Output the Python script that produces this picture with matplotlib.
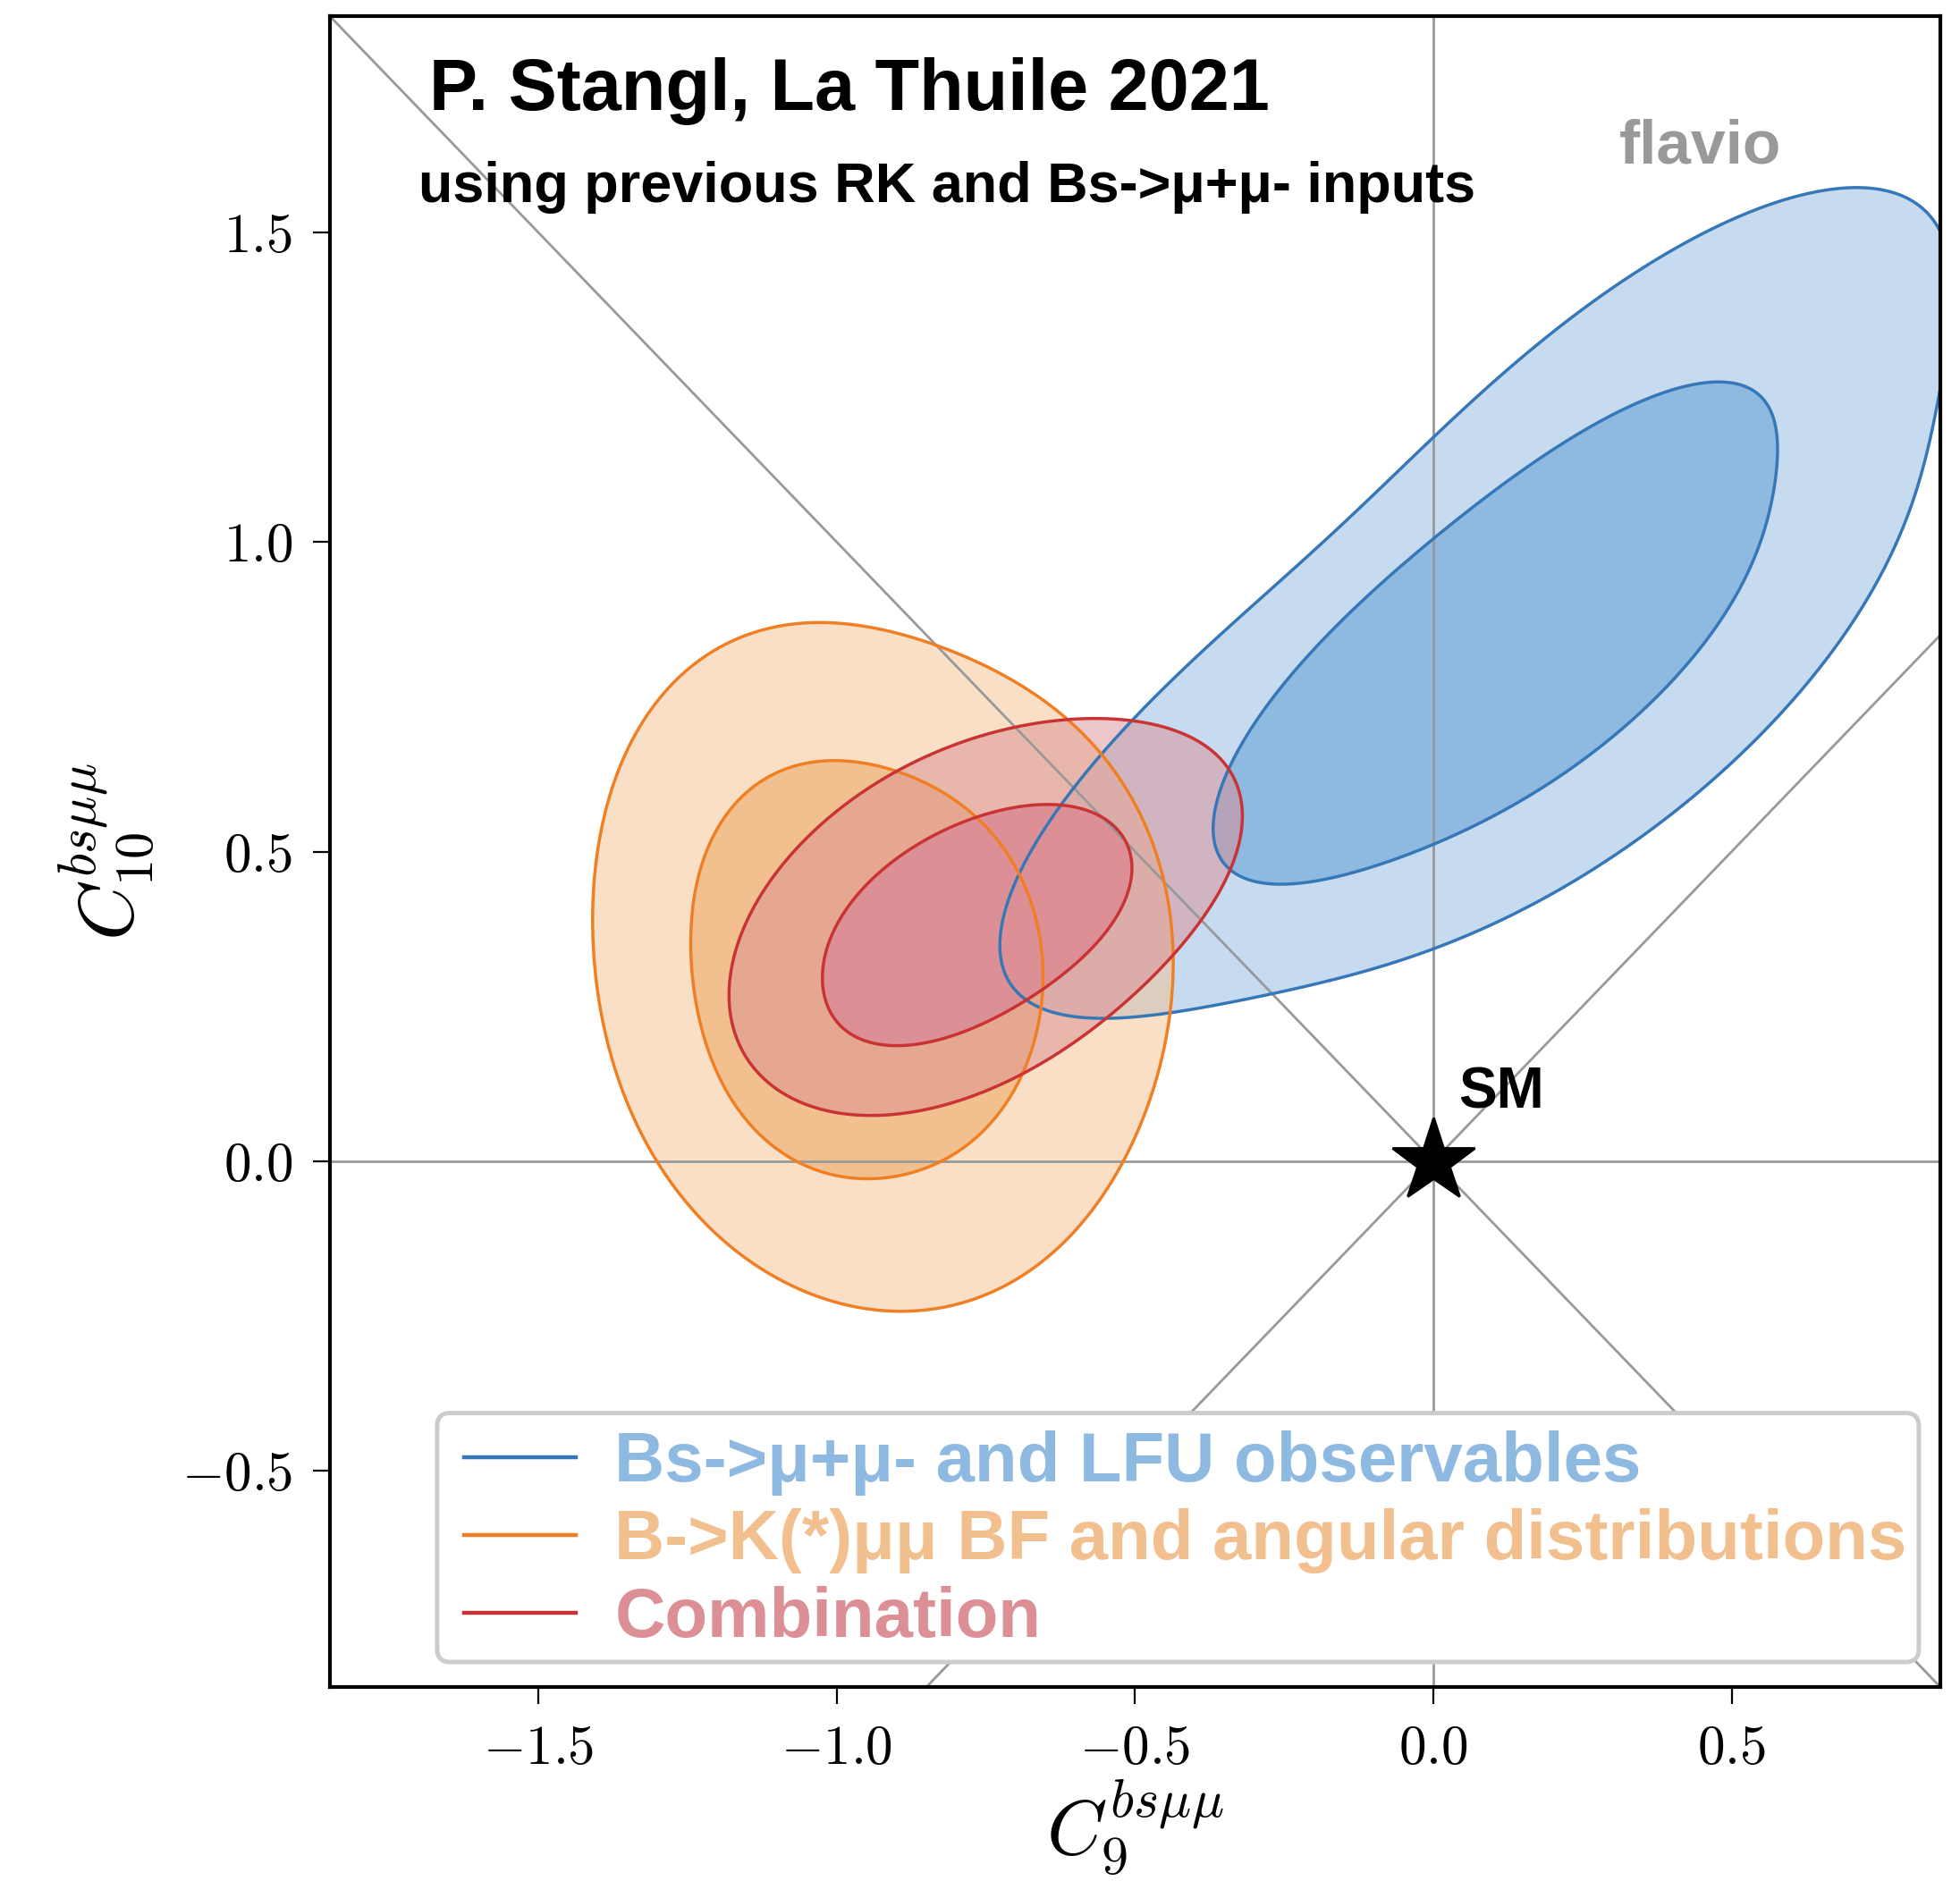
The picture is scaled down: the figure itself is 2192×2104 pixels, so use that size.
import numpy as np
import matplotlib
matplotlib.use("Agg")
import matplotlib.pyplot as plt
from matplotlib.path import Path
from matplotlib.patches import PathPatch, FancyBboxPatch
from matplotlib.lines import Line2D

plt.rcParams['mathtext.fontset'] = 'cm'
plt.rcParams['font.family'] = ['Liberation Sans', 'DejaVu Sans']

# contour outlines (C9, C10)
blue_outer_x = [0.686, 0.779, 0.830, 0.865, 0.875, 0.846, 0.810, 0.737, 0.634, 0.489, 0.334, 0.179, 0.001,
                -0.183, -0.338, -0.493, -0.617, -0.690, -0.721, -0.705, -0.659, -0.597, -0.493, -0.338,
                -0.173, 0.001, 0.179, 0.344, 0.489, 0.593]
blue_outer_y = [1.575, 1.566, 1.507, 1.420, 1.330, 1.237, 1.092, 0.930, 0.777, 0.633, 0.516, 0.416, 0.349,
                0.290, 0.254, 0.232, 0.236, 0.272, 0.353, 0.444, 0.534, 0.624, 0.714, 0.858,
                1.020, 1.174, 1.318, 1.435, 1.516, 1.561]
blue_inner_x = [0.468, 0.541, 0.577, 0.562, 0.510, 0.427, 0.324, 0.200, 0.055, -0.090, -0.235, -0.297,
                -0.359, -0.371, -0.338, -0.266, -0.162, -0.028, 0.117, 0.262, 0.386]
blue_inner_y = [1.259, 1.237, 1.147, 1.038, 0.921, 0.804, 0.705, 0.615, 0.534, 0.480, 0.448, 0.452,
                0.493, 0.552, 0.642, 0.750, 0.867, 0.984, 1.093, 1.183, 1.246]

orange_outer_x = [-1.020, -0.906, -0.806, -0.705, -0.605, -0.524, -0.471, -0.440, -0.437, -0.450, -0.491,
                  -0.551, -0.638, -0.739, -0.853, -0.953, -1.054, -1.148, -1.228, -1.308, -1.369, -1.402,
                  -1.410, -1.399, -1.355, -1.288, -1.208, -1.114]
orange_outer_y = [0.870, 0.858, 0.824, 0.774, 0.702, 0.618, 0.519, 0.404, 0.313, 0.198, 0.068,
                  -0.054, -0.153, -0.214, -0.235, -0.233, -0.214, -0.168, -0.092, 0.015, 0.145, 0.274,
                  0.389, 0.526, 0.656, 0.755, 0.824, 0.860]
orange_inner_x = [-0.993, -0.906, -0.819, -0.745, -0.692, -0.662, -0.655, -0.665, -0.698, -0.752, -0.819,
                  -0.893, -0.953, -1.013, -1.080, -1.148, -1.201, -1.235, -1.245, -1.235, -1.201, -1.148,
                  -1.074]
orange_inner_y = [0.644, 0.633, 0.595, 0.534, 0.458, 0.374, 0.297, 0.206, 0.122, 0.053, 0.003,
                  -0.023, -0.031, -0.019, 0.007, 0.061, 0.145, 0.244, 0.343, 0.442, 0.534, 0.603,
                  0.637]

red_outer_x = [-0.321, -0.333, -0.377, -0.440, -0.522, -0.638, -0.752, -0.853, -0.946, -1.027, -1.094,
               -1.148, -1.174, -1.181, -1.168, -1.134, -1.080, -1.013, -0.940, -0.859, -0.772, -0.672,
               -0.571, -0.522, -0.440, -0.377, -0.339]
red_outer_y = [0.558, 0.615, 0.668, 0.702, 0.712, 0.707, 0.690, 0.656, 0.603, 0.541, 0.473,
               0.397, 0.328, 0.259, 0.198, 0.145, 0.107, 0.080, 0.072, 0.080, 0.107, 0.152,
               0.210, 0.255, 0.327, 0.404, 0.481]
red_inner_x = [-0.636, -0.567, -0.522, -0.507, -0.516, -0.554, -0.611, -0.693, -0.782, -0.877, -0.946,
               -1.003, -1.025, -1.009, -0.959, -0.883, -0.788, -0.706]
red_inner_y = [0.574, 0.562, 0.529, 0.476, 0.423, 0.365, 0.308, 0.255, 0.211, 0.187, 0.192,
               0.231, 0.293, 0.365, 0.437, 0.500, 0.548, 0.572]

labels = ['Bs->μ+μ- and LFU observables', 'B->K(*)μμ BF and angular distributions', 'Combination']
line_colors = ['#3677b8', '#f07f24', '#c93334']
fill_colors = ['#8eb9e1', '#f2c08f', '#dc8f94']

x_ticks = [-1.5, -1.0, -0.5, 0.0, 0.5]
y_ticks = [-0.5, 0.0, 0.5, 1.0, 1.5]


def closed_curve(xs, ys, K=3, n=720):
    # smooth outline: whiten the points, fit r(theta) with a few harmonics, map back
    p = np.column_stack([xs, ys])
    c = p.mean(axis=0)
    L = np.linalg.cholesky(np.cov((p - c).T))
    w = np.linalg.solve(L, (p - c).T).T
    th = np.arctan2(w[:, 1], w[:, 0])
    r = np.hypot(w[:, 0], w[:, 1])

    def basis(t):
        cols = [np.ones_like(t)]
        for k in range(1, K + 1):
            cols += [np.cos(k * t), np.sin(k * t)]
        return np.column_stack(cols)

    coef = np.linalg.lstsq(basis(th), r, rcond=None)[0]
    tt = np.linspace(-np.pi, np.pi, n)
    rr = basis(tt) @ coef
    verts = c + (L @ np.vstack([rr * np.cos(tt), rr * np.sin(tt)])).T
    codes = [Path.MOVETO] + [Path.LINETO] * (n - 2) + [Path.CLOSEPOLY]
    return Path(verts, codes)


fig = plt.figure(figsize=(10.96, 10.52), dpi=200)
ax = fig.add_axes([0.1683, 0.1031, 0.8217, 0.8883])

regions = [
    (blue_outer_x, blue_outer_y, blue_inner_x, blue_inner_y, 5),
    (orange_outer_x, orange_outer_y, orange_inner_x, orange_inner_y, 4),
    (red_outer_x, red_outer_y, red_inner_x, red_inner_y, 4),
]
paths = []
for k, (ox, oy, ix, iy, K) in enumerate(regions):
    outer = closed_curve(ox, oy, K)
    inner = closed_curve(ix, iy, 4)
    paths.append((outer, inner))
    ax.add_patch(PathPatch(outer, facecolor=fill_colors[k], alpha=0.5, edgecolor='none', zorder=1))
    ax.add_patch(PathPatch(inner, facecolor=fill_colors[k], alpha=1.0, edgecolor='none', zorder=1))
for k, (outer, inner) in enumerate(paths):
    for pth in (outer, inner):
        ax.add_patch(PathPatch(pth, facecolor='none', edgecolor=line_colors[k], lw=1.25, zorder=2.5))

# reference lines
gl = dict(color='#999999', lw=1.0, zorder=2)
ax.axhline(0, **gl)
ax.axvline(0, **gl)
ax.axline((0, 0), slope=1, **gl)
ax.axline((0, 0), slope=-1, **gl)

ax.plot([0], [0], marker='*', ms=35, color='black', zorder=4)
ax.text(0.042, 0.085, 'SM', fontsize=23, fontweight='bold', ha='left', va='baseline', zorder=5)

ax.text(-1.684, 1.698, 'P. Stangl, La Thuile 2021', fontsize=29.2, fontweight='bold', va='baseline')
ax.text(-1.701, 1.550, 'using previous RK and Bs->μ+μ- inputs', fontsize=22.7, fontweight='bold',
        va='baseline')
ax.text(0.311, 1.613, 'flavio', fontsize=25, fontweight='bold', color='#999999', va='baseline')

ax.set_xlim(-1.85, 0.85)
ax.set_ylim(-0.85, 1.85)
ax.set_xticks(x_ticks)
ax.set_xticklabels(['$%.1f$' % v for v in x_ticks])
ax.set_yticks(y_ticks)
ax.set_yticklabels(['$%.1f$' % v for v in y_ticks])
ax.tick_params(direction='out', length=7, width=0.8, labelsize=22, pad=8)
for s in ax.spines.values():
    s.set_linewidth(1.5)
ax.set_xlabel(r'$C_9^{bs\mu\mu}$', fontsize=31, labelpad=1)
ax.set_ylabel(r'$C_{10}^{bs\mu\mu}$', fontsize=31, labelpad=10)

# legend box drawn separately, entries without frame
ax.add_patch(FancyBboxPatch((0.0666, 0.015), 0.920, 0.149, boxstyle='round,pad=0,rounding_size=0.008',
                            transform=ax.transAxes, facecolor='white', edgecolor='#cccccc', lw=1.8,
                            zorder=5.5))
handles = [Line2D([], [], color=c, lw=1.6) for c in line_colors]
leg = ax.legend(handles, labels, loc='lower left', bbox_to_anchor=(0.0746, 0.013), borderaxespad=0,
                prop=dict(family=['Liberation Sans', 'DejaVu Sans'], weight='bold', size=28.1),
                handlelength=1.6, handletextpad=0.56, labelspacing=0.18, borderpad=0.2,
                frameon=False)
leg.set_zorder(6)
for t, c in zip(leg.get_texts(), fill_colors):
    t.set_color(c)

fig.savefig('out.png', dpi=200)
